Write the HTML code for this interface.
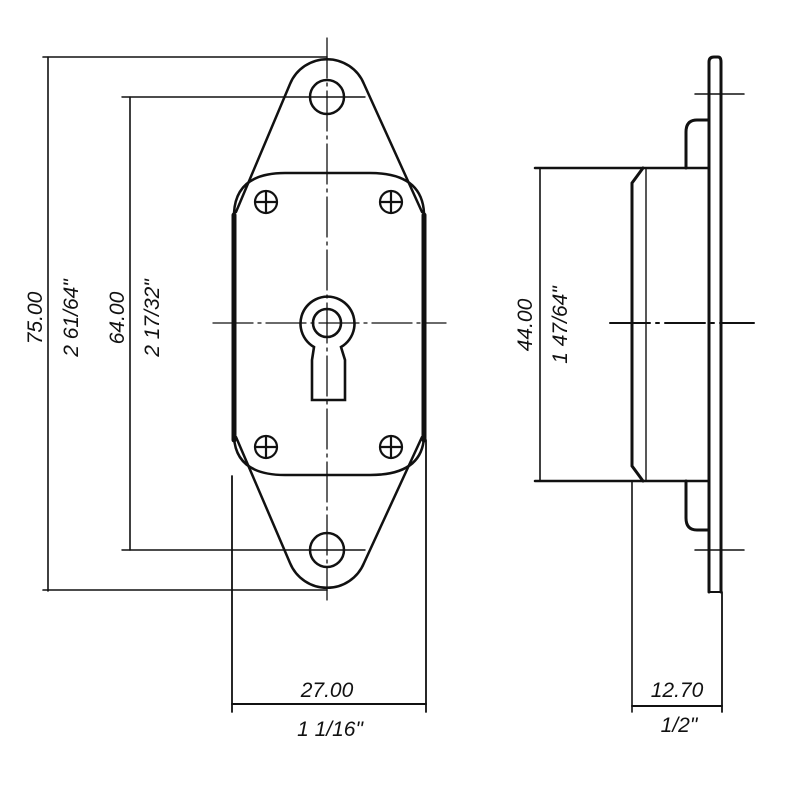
<!DOCTYPE html>
<html><head><style>
html,body{margin:0;padding:0;background:#fff;}
svg{display:block}
text{font-family:"Liberation Sans",sans-serif;font-style:italic;font-size:21px;fill:#111}
</style></head><body>
<svg width="798" height="786" viewBox="0 0 798 786" xmlns="http://www.w3.org/2000/svg">
<g stroke="#111" fill="none" stroke-linecap="round">
<line x1="327" y1="38" x2="327" y2="600" stroke-width="1.3" stroke-dasharray="40 5 3 5"/>
<line x1="213" y1="323" x2="446" y2="323" stroke-width="1.3" stroke-dasharray="40 5 3 5"/>
<line x1="48" y1="57" x2="48" y2="591" stroke-width="1.6"/>
<line x1="43" y1="57" x2="327" y2="57" stroke-width="1.6"/>
<line x1="43" y1="590" x2="327" y2="590" stroke-width="1.6"/>
<line x1="130" y1="97" x2="130" y2="550" stroke-width="1.6"/>
<line x1="122" y1="97" x2="365" y2="97" stroke-width="1.4"/>
<line x1="122" y1="550" x2="365" y2="550" stroke-width="1.4"/>
<path d="M236,212 L290,84 A40,40 0 0 1 364,84 L422,212" stroke-width="2.5"/>
<path d="M236,437 L290,563 A40,40 0 0 0 364,563 L422,437" stroke-width="2.5"/>
<path d="M234,437 L234,213 Q236,173 285,173 L370,173 Q422,173 424,213 L424,437 Q422,475 370,475 L285,475 Q236,475 234,437" stroke-width="2.5"/>
<line x1="234" y1="215" x2="234" y2="440" stroke-width="5"/>
<line x1="424" y1="215" x2="424" y2="440" stroke-width="5"/>
<circle cx="327" cy="97" r="17" stroke-width="2.5"/>
<circle cx="327" cy="550" r="17" stroke-width="2.5"/>
<g stroke-width="2.2">
<circle cx="266" cy="202" r="11"/><line x1="255" y1="202" x2="277" y2="202"/><line x1="266" y1="191" x2="266" y2="213"/>
<circle cx="391" cy="202" r="11"/><line x1="380" y1="202" x2="402" y2="202"/><line x1="391" y1="191" x2="391" y2="213"/>
<circle cx="266" cy="447" r="11"/><line x1="255" y1="447" x2="277" y2="447"/><line x1="266" y1="436" x2="266" y2="458"/>
<circle cx="391" cy="447" r="11"/><line x1="380" y1="447" x2="402" y2="447"/><line x1="391" y1="436" x2="391" y2="458"/>
</g>
<path d="M314,347 A27,27 0 1 1 341,347 L345,360 L345,400 L312,400 L312,360 Z" stroke-width="2.6"/>
<circle cx="327" cy="323" r="14" stroke-width="2.6"/>
<line x1="232" y1="476" x2="232" y2="712" stroke-width="1.8"/>
<line x1="426" y1="440" x2="426" y2="712" stroke-width="1.8"/>
<line x1="232" y1="704" x2="426" y2="704" stroke-width="2"/>

<path d="M709,592 L709,62 Q709,57 714,57 L718,57 Q721,57 721,62 L721,592" stroke-width="3"/>
<line x1="709" y1="592" x2="721" y2="592" stroke-width="2"/>
<path d="M708,120 L697,120 Q686,120 686,132 L686,168" stroke-width="3"/>
<path d="M708,530 L697,530 Q686,530 686,518 L686,481" stroke-width="3"/>
<line x1="535" y1="168" x2="708" y2="168" stroke-width="2.5"/>
<line x1="535" y1="481" x2="708" y2="481" stroke-width="2.5"/>
<path d="M643,168 L632,183 L632,466 L643,481" stroke-width="3"/>
<line x1="646" y1="168" x2="646" y2="481" stroke-width="1.4"/>
<line x1="610" y1="323" x2="754" y2="323" stroke-width="2" stroke-dasharray="40 6 3 6"/>
<line x1="695" y1="94" x2="744" y2="94" stroke-width="1.5"/>
<line x1="695" y1="550" x2="744" y2="550" stroke-width="1.5"/>
<line x1="540" y1="168" x2="540" y2="481" stroke-width="1.6"/>
<line x1="632" y1="481" x2="632" y2="712" stroke-width="1.6"/>
<line x1="722" y1="592" x2="722" y2="712" stroke-width="1.8"/>
<line x1="632" y1="706" x2="722" y2="706" stroke-width="2"/>
</g>
<text transform="translate(42,318) rotate(-90)" text-anchor="middle">75.00</text>
<text transform="translate(78,318) rotate(-90)" text-anchor="middle">2 61/64"</text>
<text transform="translate(124,318) rotate(-90)" text-anchor="middle">64.00</text>
<text transform="translate(159,318) rotate(-90)" text-anchor="middle">2 17/32"</text>
<text transform="translate(532,325) rotate(-90)" text-anchor="middle">44.00</text>
<text transform="translate(567,325) rotate(-90)" text-anchor="middle">1 47/64"</text>
<text x="327" y="697" text-anchor="middle">27.00</text>
<text x="330" y="736" text-anchor="middle">1 1/16"</text>
<text x="677" y="697" text-anchor="middle">12.70</text>
<text x="679" y="732" text-anchor="middle">1/2"</text>
</svg>
</body></html>
